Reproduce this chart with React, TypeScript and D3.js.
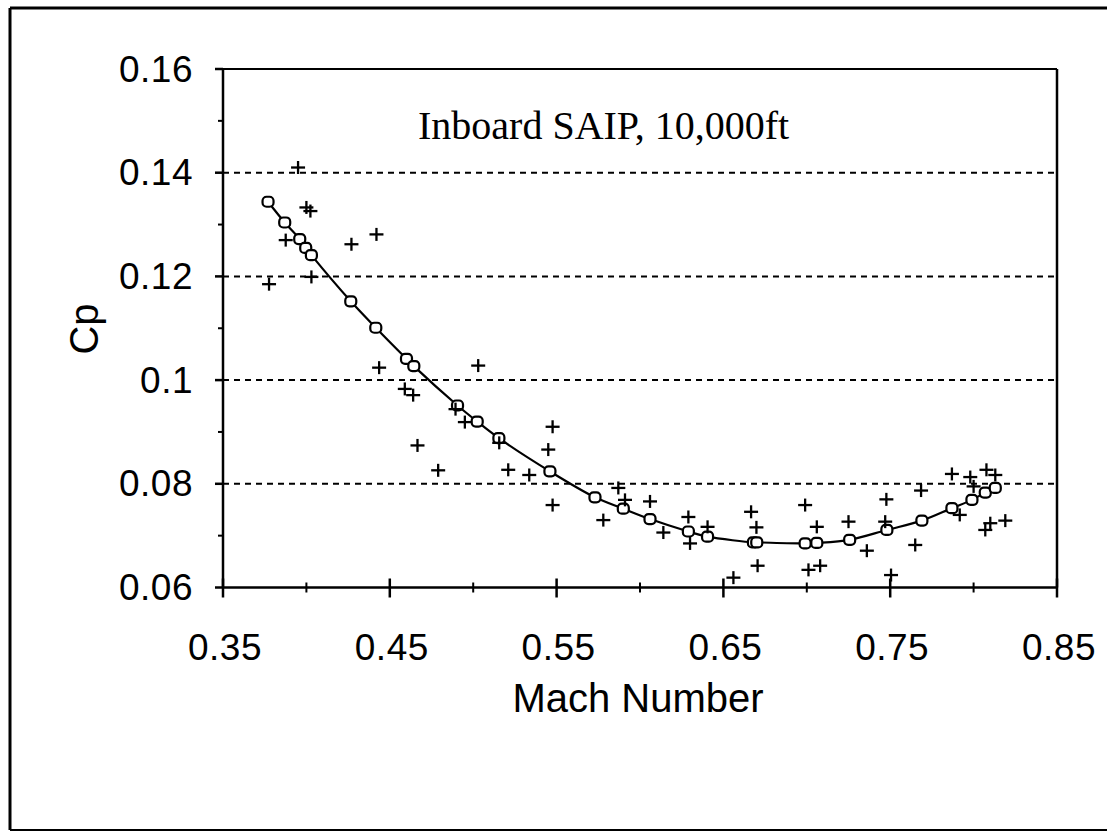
import React from "react";
import * as d3 from "d3";

const W = 1107;
const H = 832;

const xTickValues = [0.35, 0.45, 0.55, 0.65, 0.75, 0.85];
const xTickLabels = ["0.35", "0.45", "0.55", "0.65", "0.75", "0.85"];
const xMinorValues = [0.4, 0.5, 0.6, 0.7, 0.8];
const yTickValues = [0.06, 0.08, 0.1, 0.12, 0.14, 0.16];
const yTickLabels = ["0.06", "0.08", "0.1", "0.12", "0.14", "0.16"];
const yMinorValues = [0.07, 0.09, 0.11, 0.13, 0.15];
const gridValues = [0.08, 0.1, 0.12, 0.14];

const fitMach = [
  0.377, 0.387, 0.396, 0.3996, 0.403, 0.4266, 0.4416, 0.46, 0.4644, 0.4906,
  0.5024, 0.5154, 0.546, 0.573, 0.59, 0.606, 0.629, 0.6405, 0.668, 0.67,
  0.699, 0.706, 0.7257, 0.748, 0.769, 0.787, 0.799, 0.807, 0.813,
];
const fitCp = [
  0.1344, 0.1304, 0.1272, 0.1255, 0.1241, 0.1152, 0.1101, 0.1041, 0.1027, 0.0951,
  0.092, 0.0888, 0.0824, 0.0774, 0.0752, 0.0732, 0.0708, 0.0698, 0.0687, 0.0687,
  0.0685, 0.0686, 0.0692, 0.0711, 0.0729, 0.0753, 0.0769, 0.0783, 0.0792,
];

const testMach = [
  0.395, 0.4, 0.4024, 0.3876, 0.427, 0.442, 0.3776, 0.403, 0.4436, 0.503,
  0.459, 0.464, 0.4666, 0.479, 0.4894, 0.495, 0.5156, 0.521, 0.5336, 0.5476,
  0.545, 0.5476, 0.578, 0.587, 0.591, 0.606, 0.614, 0.629, 0.63, 0.6405,
  0.656, 0.6666, 0.6698, 0.6705, 0.699, 0.706, 0.701, 0.708, 0.725, 0.736,
  0.7477, 0.747, 0.7505, 0.765, 0.7685, 0.787, 0.7917, 0.798, 0.8, 0.8077,
  0.813, 0.807, 0.81, 0.819,
];
const testCp = [
  0.141, 0.1333, 0.1326, 0.127, 0.1262, 0.1281, 0.1185, 0.1199, 0.1024, 0.1028,
  0.0983, 0.0971, 0.0874, 0.0826, 0.0944, 0.0919, 0.0879, 0.0827, 0.0817, 0.091,
  0.0866, 0.0759, 0.073, 0.0792, 0.0769, 0.0766, 0.0706, 0.0736, 0.0685, 0.0717,
  0.0619, 0.0746, 0.0716, 0.0642, 0.0759, 0.0717, 0.0634, 0.0642, 0.0727, 0.0671,
  0.077, 0.0727, 0.0624, 0.0682, 0.0787, 0.0819, 0.074, 0.0813, 0.0795, 0.0827,
  0.0817, 0.0711, 0.0724, 0.0729,
];

const titleText = "Inboard SAIP, 10,000ft";
const xTitle = "Mach Number";
const yTitle = "Cp";

export default function App() {
  const x = d3.scaleLinear().domain([0.35, 0.85]).range([223, 1057]);
  const y = d3.scaleLinear().domain([0.06, 0.16]).range([587.5, 69]);
  const sans = "'Liberation Sans', Arial, Helvetica, sans-serif";
  const serif = "'Liberation Serif', 'Times New Roman', serif";

  const fitPts: [number, number][] = fitMach.map((m, i) => [m, fitCp[i]]);
  const line = d3
    .line<[number, number]>()
    .x((d) => x(d[0]))
    .y((d) => y(d[1]))
    .curve(d3.curveCatmullRom.alpha(0.5));

  const x0 = x(0.35);
  const x1 = x(0.85);
  const yb = y(0.06);
  const yt = y(0.16);

  return (
    <svg
      width={W}
      height={H}
      style={{ position: "absolute", left: 0, top: 0, background: "#fff" }}
    >
      {/* outer frame */}
      <line x1={10} y1={8} x2={W} y2={8} stroke="#000" strokeWidth={3} />
      <line x1={10} y1={8} x2={10} y2={830} stroke="#000" strokeWidth={3} />
      <line x1={10} y1={830} x2={W} y2={830} stroke="#000" strokeWidth={2} />

      {/* gridlines */}
      {gridValues.map((v) => (
        <line
          key={"g" + v}
          x1={x0}
          x2={x1}
          y1={y(v)}
          y2={y(v)}
          stroke="#000"
          strokeWidth={2}
          strokeDasharray="6,5"
        />
      ))}

      {/* plot frame */}
      <line x1={x0} y1={yt} x2={x1} y2={yt} stroke="#000" strokeWidth={2} />
      <line x1={x1} y1={yt} x2={x1} y2={yb} stroke="#000" strokeWidth={2.5} />
      <line x1={x0} y1={yt} x2={x0} y2={yb} stroke="#000" strokeWidth={2.5} />
      <line x1={x0} y1={yb} x2={x1} y2={yb} stroke="#000" strokeWidth={2.5} />

      {/* y ticks */}
      {yTickValues.map((v) => (
        <line key={"yt" + v} x1={x0 - 8} x2={x0} y1={y(v)} y2={y(v)} stroke="#000" strokeWidth={2.5} />
      ))}
      {yMinorValues.map((v) => (
        <line key={"ym" + v} x1={x0 - 5} x2={x0} y1={y(v)} y2={y(v)} stroke="#000" strokeWidth={2} />
      ))}
      {/* x ticks */}
      {xTickValues.map((v) => (
        <line key={"xt" + v} x1={x(v)} x2={x(v)} y1={yb - 9} y2={yb + 10} stroke="#000" strokeWidth={2.5} />
      ))}
      {xMinorValues.map((v) => (
        <line key={"xm" + v} x1={x(v)} x2={x(v)} y1={yb - 5} y2={yb + 5} stroke="#000" strokeWidth={2} />
      ))}

      {/* tick labels */}
      {yTickValues.map((v, i) => (
        <text
          key={"yl" + v}
          x={193}
          y={y(v) + 12.5}
          textAnchor="end"
          fontFamily={sans}
          fontSize={37}
          letterSpacing={0.5}
          fill="#000"
        >
          {yTickLabels[i]}
        </text>
      ))}
      {xTickValues.map((v, i) => (
        <text
          key={"xl" + v}
          x={x(v) + 2}
          y={660}
          textAnchor="middle"
          fontFamily={sans}
          fontSize={37}
          letterSpacing={0.5}
          fill="#000"
        >
          {xTickLabels[i]}
        </text>
      ))}

      {/* axis titles */}
      <text x={638} y={712} textAnchor="middle" fontFamily={sans} fontSize={40} fill="#000">
        {xTitle}
      </text>
      <text
        transform="translate(98,329) rotate(-90)"
        textAnchor="middle"
        fontFamily={sans}
        fontSize={40}
        fill="#000"
      >
        {yTitle}
      </text>

      {/* annotation */}
      <text x={418} y={139} fontFamily={serif} fontSize={40} fill="#000">
        {titleText}
      </text>

      {/* fitted curve */}
      <path d={line(fitPts) || ""} fill="none" stroke="#000" strokeWidth={2.2} />

      {/* fitted markers */}
      {fitPts.map((d, i) => (
        <rect
          key={"f" + i}
          x={x(d[0]) - 5.5}
          y={y(d[1]) - 5}
          width={11}
          height={10}
          rx={4}
          fill="#fff"
          stroke="#000"
          strokeWidth={2.2}
        />
      ))}

      {/* test data plus markers */}
      {testMach.map((m, i) => {
        const cx = x(m);
        const cy = y(testCp[i]);
        return (
          <g key={"p" + i} stroke="#000" strokeWidth={2.3}>
            <line x1={cx - 7} x2={cx + 7} y1={cy} y2={cy} />
            <line x1={cx} x2={cx} y1={cy - 6.5} y2={cy + 6.5} />
          </g>
        );
      })}
    </svg>
  );
}
